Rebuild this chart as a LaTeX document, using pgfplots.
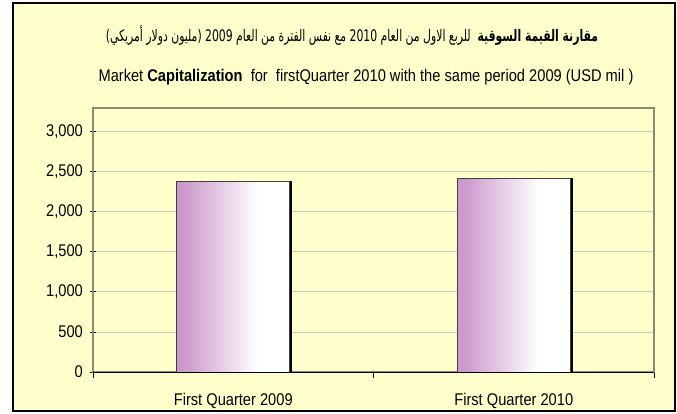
\documentclass[border=0pt]{standalone}
\usepackage{fontspec}
\setmainfont[FakeStretch=0.865]{Liberation Sans}
\newfontfamily\arabicfont[Script=Arabic]{DejaVu Sans}
\TeXXeTstate=1
\usepackage{pgfplots}
\pgfplotsset{compat=1.18}

\definecolor{bgyellow}{RGB}{255,255,204}
\definecolor{plum}{RGB}{204,153,204}
\definecolor{framec}{RGB}{140,140,112}
\definecolor{gridc}{RGB}{200,200,200}
\pgfdeclarehorizontalshading{barshade}{100bp}{color(0bp)=(plum); color(28bp)=(plum); color(61bp)=(white); color(100bp)=(white)}

\pgfplotsset{
    shadowbar/.style={ybar, bar width=0.403, bar shift=0.008, fill=black, draw=none},
    mainbar/.style={ybar, bar width=0.403, bar shift=0, shade, shading=barshade,
        draw=black!75, line width=0.6bp},
}

\begin{document}
\begin{tikzpicture}[x=1bp,y=1bp]
\fill[bgyellow] (-80,-39) rectangle (582,369);
\begin{axis}[
    at={(0,0)}, anchor=south west,
    scale only axis, width=561bp, height=264bp,
    xmin=-0.5, xmax=1.5, ymin=0, ymax=3292,
    ytick={0,500,...,3000},
    scaled y ticks=false,
    /pgf/number format/1000 sep={,},
    /pgf/number format/assume math mode=true,
    tick label style={font=\fontsize{17}{19}\selectfont},
    yticklabel style={anchor=east, inner sep=0pt, xshift=-7bp},
    xticklabel style={anchor=north, inner sep=0pt, yshift=-21bp},
    xtick={-0.5,0.5,1.5}, xticklabels={},
    extra x ticks={0,1},
    extra x tick labels={First Quarter 2009, First Quarter 2010},
    extra x tick style={major tick length=0pt},
    xtick pos=left, ytick pos=left,
    xtick align=outside, ytick align=center,
    major tick length=6bp,
    tick style={black, line width=0.8bp},
    ymajorgrids,
    major grid style={gridc, line width=0.8bp},
    axis line style={framec, line width=1.2bp},
]
% shadow strip on the right of each bar
\addplot[shadowbar] coordinates {(0,2376)};
\addplot[shadowbar] coordinates {(1,2419)};
% one plot per bar so that each bar gets its own gradient
\addplot[mainbar] coordinates {(0,2376)};
\addplot[mainbar] coordinates {(1,2419)};
\draw[black, line width=1bp] (rel axis cs:0,0) -- (rel axis cs:1,0);
\end{axis}

\node[font=\arabicfont\fontsize{16}{19}\selectfont] at (259,337)
    {\scalebox{0.68}[1]{\beginR\textbf{مقارنة القيمة السوقية}\ \ للربع الاول من العام 2010 مع نفس الفترة من العام 2009 (مليون دولار أمريكي)\endR}};
\node[font=\fontsize{17}{19}\selectfont] at (273,295)
    {Market \textbf{Capitalization}\ \ for\ \ firstQuarter 2010 with the same period 2009 (USD mil )};

\draw[black, line width=2.5bp] (-80,-39) rectangle (582,369);
\pgfresetboundingbox
\path[use as bounding box] (-93,-41) rectangle (584,372);
\end{tikzpicture}
\end{document}
